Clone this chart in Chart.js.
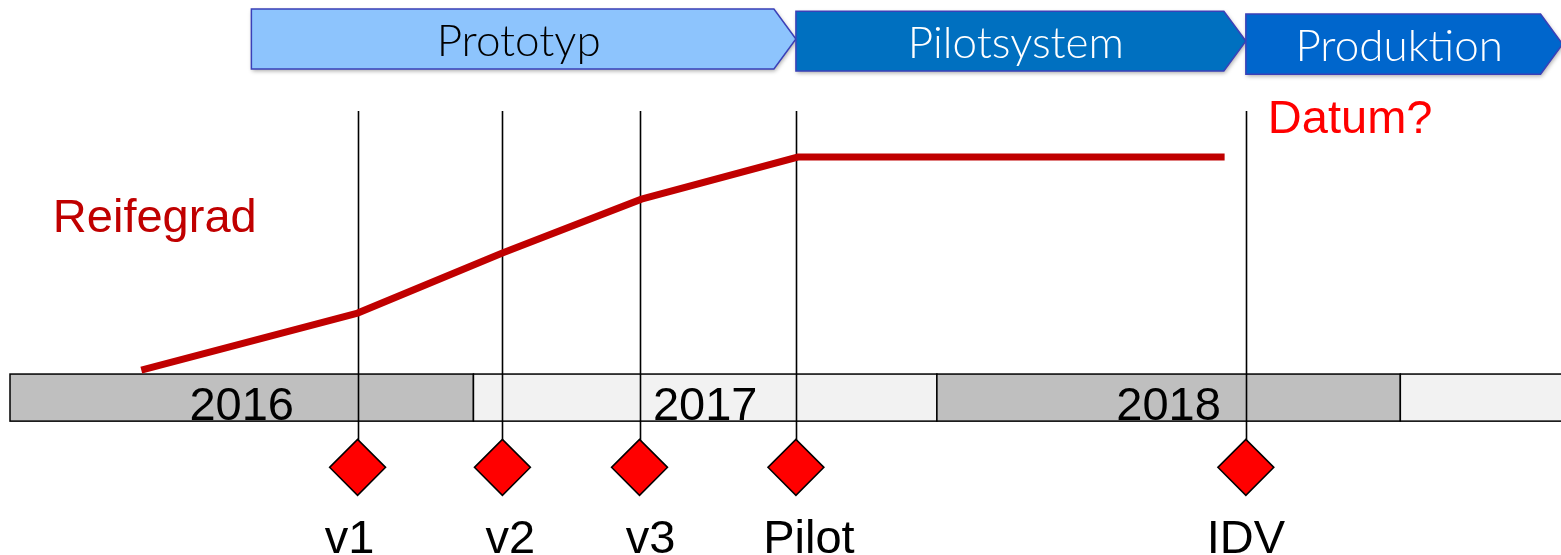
<!DOCTYPE html>
<html>
<head>
<meta charset="utf-8">
<script src="https://cdn.jsdelivr.net/npm/chart.js@4.4.1/dist/chart.umd.min.js"></script>
<style>
  html, body { margin: 0; padding: 0; background: #fff; }
  #timeline { display: block; }
</style>
</head>
<body>
<canvas id="timeline" width="1561" height="555"></canvas>
<script>
// x axis: months counted from January 2016
// y axis: Reifegrad (maturity) level, 0 = top of the year band, 100 = pilot level
const years = ["2016", "2017", "2018", ""];
const yearStart = [0, 12, 24, 36];

const milestones = ["v1", "v2", "v3", "Pilot", "IDV"];
const milestoneMonth = [9, 12.75, 16.3, 20.35, 32];

const phases = ["Prototyp", "Pilotsystem", "Produktion"];
const phaseStart = [6.25, 20.35, 32];
const phaseEnd = [20.35, 32, 40.2];

const reifeMonth = [3.4, 9, 12.75, 16.35, 20.4, 31.45];
const reifeLevel = [1.8, 28.1, 55.8, 80.6, 100, 100];

// layout levels on the y scale
const BAND_TOP = 0, BAND_BOTTOM = -21.7;
const DIAMOND_LEVEL = -43;
const LINE_TOP = 121.2;
const LABEL_LEVEL = -82.7;
const labelShift = [-8, 8, 11, 13, 0]; // px nudges of the milestone captions
const phaseTop = [168.2, 167.2, 165.9];
const phaseBottom = [140.6, 139.7, 138.2];
const phaseFill = ["#8dc4fd", "#0070c0", "#0066cc"];
const phaseText = ["#000", "#fff", "#fff"];
const LABEL_FONT = "47px 'Liberation Sans', Arial, sans-serif";

const timelinePlugin = {
  id: "timeline",
  beforeDatasetsDraw(chart) {
    const { ctx, scales: { x, y } } = chart;
    ctx.save();

    // year band
    const top = y.getPixelForValue(BAND_TOP);
    const bot = y.getPixelForValue(BAND_BOTTOM);
    years.forEach((label, i) => {
      const x0 = x.getPixelForValue(yearStart[i]);
      const x1 = x.getPixelForValue(yearStart[i] + 12);
      ctx.fillStyle = i % 2 ? "#f2f2f2" : "#bfbfbf";
      ctx.fillRect(x0, top, x1 - x0, bot - top);
      ctx.strokeStyle = "#000";
      ctx.lineWidth = 1.5;
      ctx.strokeRect(x0, top, x1 - x0, bot - top);
      ctx.fillStyle = "#000";
      ctx.font = LABEL_FONT;
      ctx.textAlign = "center";
      ctx.textBaseline = "alphabetic";
      ctx.fillText(label, (x0 + x1) / 2, bot - 1);
    });

    // phase chevrons
    phases.forEach((name, i) => {
      const x0 = x.getPixelForValue(phaseStart[i]);
      const x1 = x.getPixelForValue(phaseEnd[i]);
      const t = y.getPixelForValue(phaseTop[i]);
      const b = y.getPixelForValue(phaseBottom[i]);
      const tip = 22;
      ctx.save();
      ctx.beginPath();
      ctx.moveTo(x0, t);
      ctx.lineTo(x1 - tip, t);
      ctx.lineTo(x1, (t + b) / 2);
      ctx.lineTo(x1 - tip, b);
      ctx.lineTo(x0, b);
      ctx.closePath();
      ctx.shadowColor = "rgba(0,0,0,0.35)";
      ctx.shadowBlur = 4;
      ctx.shadowOffsetX = 1;
      ctx.shadowOffsetY = 2;
      ctx.fillStyle = phaseFill[i];
      ctx.fill();
      ctx.shadowColor = "transparent";
      ctx.strokeStyle = "#3a40b8";
      ctx.lineWidth = 1.5;
      ctx.stroke();
      ctx.restore();
      ctx.fillStyle = phaseText[i];
      ctx.font = "300 44px Lato, 'Open Sans', sans-serif";
      ctx.textAlign = "center";
      ctx.textBaseline = "alphabetic";
      ctx.fillText(name, (x0 + x1 - tip) / 2 + 6, (t + b) / 2 + 17);
    });

    // milestone lines
    ctx.strokeStyle = "#000";
    ctx.lineWidth = 1.6;
    milestoneMonth.forEach(m => {
      const px = Math.round(x.getPixelForValue(m)) + 0.5;
      ctx.beginPath();
      ctx.moveTo(px, y.getPixelForValue(LINE_TOP));
      ctx.lineTo(px, y.getPixelForValue(DIAMOND_LEVEL));
      ctx.stroke();
    });
    ctx.restore();
  },
  afterDatasetsDraw(chart) {
    const { ctx, scales: { x, y } } = chart;
    ctx.save();
    ctx.font = LABEL_FONT;
    ctx.textBaseline = "alphabetic";
    ctx.textAlign = "center";
    ctx.fillStyle = "#000";
    milestones.forEach((name, i) => {
      ctx.fillText(name, x.getPixelForValue(milestoneMonth[i]) + labelShift[i], y.getPixelForValue(LABEL_LEVEL));
    });
    ctx.textAlign = "left";
    ctx.fillStyle = "#c00000";
    ctx.fillText("Reifegrad", x.getPixelForValue(1.11), y.getPixelForValue(65.4));
    ctx.fillStyle = "#ff0000";
    ctx.fillText("Datum?", x.getPixelForValue(32.57), y.getPixelForValue(111));
    ctx.restore();
  }
};

new Chart(document.getElementById("timeline"), {
  type: "line",
  data: {
    datasets: [
      {
        label: "Meilensteine",
        data: milestoneMonth.map(m => ({ x: m, y: DIAMOND_LEVEL })),
        showLine: false,
        pointStyle: "rectRot",
        pointRadius: 28,
        pointHoverRadius: 28,
        pointBackgroundColor: "#ff0000",
        pointBorderColor: "#000",
        pointBorderWidth: 1.5
      },
      {
        label: "Reifegrad",
        data: reifeMonth.map((m, i) => ({ x: m, y: reifeLevel[i] })),
        borderColor: "#c00000",
        borderWidth: 7,
        pointRadius: 0,
        tension: 0,
        fill: false
      }
    ]
  },
  options: {
    responsive: false,
    animation: false,
    layout: { autoPadding: false, padding: { left: 10, right: 0, top: 0, bottom: 0 } },
    plugins: {
      legend: { display: false },
      tooltip: { enabled: false }
    },
    scales: {
      x: { type: "linear", min: 0, max: 40.16, display: false },
      y: { type: "linear", min: -83.4, max: 172.4, display: false }
    }
  },
  plugins: [timelinePlugin]
});
</script>
</body>
</html>
